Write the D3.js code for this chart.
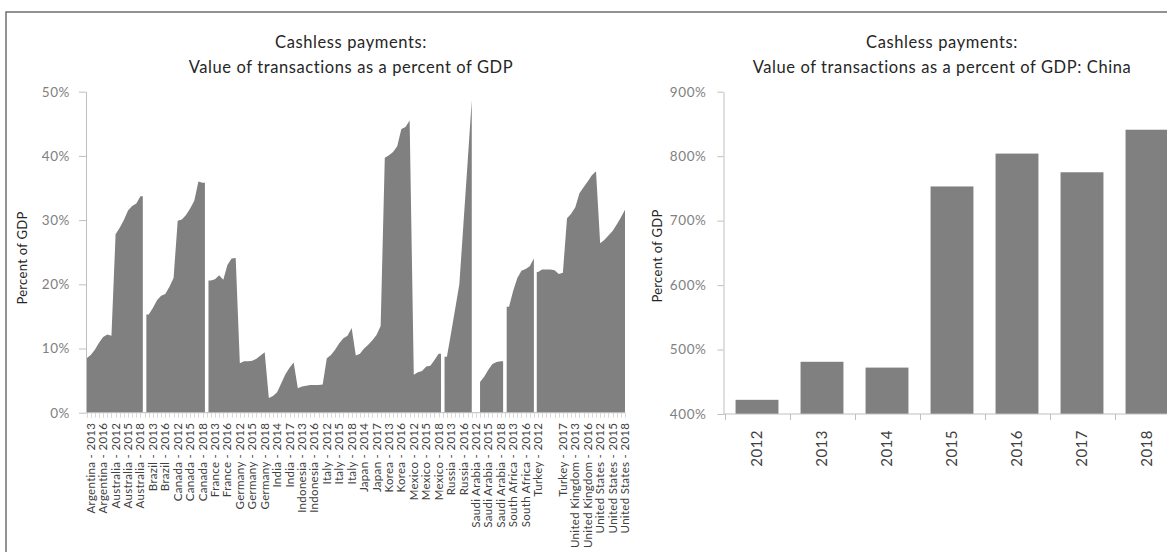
<!DOCTYPE html>
<html><head><meta charset="utf-8">
<script src="https://cdn.jsdelivr.net/npm/d3@7"></script>
<style>
body{margin:0;background:#fff;}
svg{display:block;font-family:Lato,"Open Sans",sans-serif;}
</style></head><body>
<svg id="chart" width="1167" height="552"></svg>
<script>
// ---------- data ----------
const categories = [
"Argentina - 2012","Argentina - 2013","Argentina - 2014","Argentina - 2015","Argentina - 2016","Argentina - 2017","Argentina - 2018",
"Australia - 2012","Australia - 2013","Australia - 2014","Australia - 2015","Australia - 2016","Australia - 2017","Australia - 2018",
"",
"Brazil - 2012","Brazil - 2013","Brazil - 2014","Brazil - 2015","Brazil - 2016","Brazil - 2017","Brazil - 2018",
"Canada - 2012","Canada - 2013","Canada - 2014","Canada - 2015","Canada - 2016","Canada - 2017","Canada - 2018",
"",
"France - 2012","France - 2013","France - 2014","France - 2015","France - 2016","France - 2017","France - 2018",
"Germany - 2012","Germany - 2013","Germany - 2014","Germany - 2015","Germany - 2016","Germany - 2017","Germany - 2018",
"India - 2012","India - 2013","India - 2014","India - 2015","India - 2016","India - 2017","India - 2018",
"Indonesia - 2012","Indonesia - 2013","Indonesia - 2014","Indonesia - 2015","Indonesia - 2016","Indonesia - 2017","Indonesia - 2018",
"Italy - 2012","Italy - 2013","Italy - 2014","Italy - 2015","Italy - 2016","Italy - 2017","Italy - 2018",
"Japan - 2012","Japan - 2013","Japan - 2014","Japan - 2015","Japan - 2016","Japan - 2017","Japan - 2018",
"Korea - 2012","Korea - 2013","Korea - 2014","Korea - 2015","Korea - 2016","Korea - 2017","Korea - 2018",
"Mexico - 2012","Mexico - 2013","Mexico - 2014","Mexico - 2015","Mexico - 2016","Mexico - 2017","Mexico - 2018",
"",
"Russia - 2012","Russia - 2013","Russia - 2014","Russia - 2015","Russia - 2016","Russia - 2017","Russia - 2018",
"Saudi Arabia - 2012","Saudi Arabia - 2013","Saudi Arabia - 2014","Saudi Arabia - 2015","Saudi Arabia - 2016","Saudi Arabia - 2017","Saudi Arabia - 2018",
"",
"South Africa - 2012","South Africa - 2013","South Africa - 2014","South Africa - 2015","South Africa - 2016","South Africa - 2017","South Africa - 2018",
"Turkey - 2012","Turkey - 2013","Turkey - 2014","","Turkey - 2015","Turkey - 2016","Turkey - 2017","Turkey - 2018",
"United Kingdom - 2012","United Kingdom - 2013","United Kingdom - 2014","United Kingdom - 2015","United Kingdom - 2016","United Kingdom - 2017","United Kingdom - 2018",
"United States - 2012","United States - 2013","United States - 2014","United States - 2015","United States - 2016","United States - 2017","United States - 2018"
];
// percent of GDP (null = empty cell)
const values = [
8.5, 9.0, 9.8, 10.9, 11.8, 12.2, 12.0,
27.8, 28.8, 30.0, 31.5, 32.2, 32.6, 33.7,
null,
15.3, 16.3, 17.5, 18.2, 18.5, 19.6, 21.0,
29.9, 30.1, 30.8, 31.8, 33.0, 36.0, 35.8,
null,
20.6, 20.8, 21.4, 20.7, 23.0, 24.0, 24.1,
7.7, 8.0, 8.0, 8.1, 8.4, 8.9, 9.4,
2.3, 2.6, 3.2, 4.6, 6.0, 7.0, 7.8,
3.8, 4.1, 4.2, 4.3, 4.3, 4.3, 4.4,
8.5, 9.0, 9.8, 10.8, 11.6, 12.0, 13.2,
8.9, 9.2, 10.0, 10.6, 11.3, 12.1, 13.5,
39.7, 40.1, 40.6, 41.5, 44.2, 44.5, 45.5,
5.9, 6.3, 6.5, 7.2, 7.3, 8.2, 9.2,
null,
8.7, 12.4, 16.2, 20.0, 29.5, 39.0, 48.7,
null, 4.8, 5.6, 6.7, 7.6, 7.9, 8.0,
null,
16.5, 19.0, 21.0, 22.1, 22.4, 22.8, 24.0,
21.9, 22.3, 22.3, 22.3, 22.2, 21.6, 21.8, 30.3,
31.0, 32.0, 34.2, 35.1, 36.0, 37.0, 37.6,
26.4, 26.9, 27.6, 28.3, 29.3, 30.4, 31.6
];
// the area is also interrupted after this category (South Africa / Turkey)
const areaBreaksAfter = ["South Africa - 2018"];
const leftYTicks = [0, 10, 20, 30, 40, 50];
const leftTitle = ["Cashless payments:", "Value of transactions as a percent of GDP"];

const chinaYears = ["2012","2013","2014","2015","2016","2017","2018"];
const chinaValues = [422, 481, 472, 753, 804, 775, 841];
const rightYTicks = [400, 500, 600, 700, 800, 900];
const rightTitle = ["Cashless payments:", "Value of transactions as a percent of GDP: China"];
const yAxisTitle = "Percent of GDP";

// ---------- drawing ----------
const svg = d3.select("#chart");
const FILL = "#808080", AXIS = "#bfbfbf", TICKTXT = "#7f7f7f", TXT = "#262626";

svg.append("rect").attr("x",6).attr("y",12).attr("width",1300).attr("height",700)
  .attr("fill","none").attr("stroke","#595959").attr("stroke-width",1.3);

function styleAxis(g){
  g.select(".domain").attr("stroke",AXIS);
  g.selectAll(".tick line").attr("stroke",AXIS);
  g.selectAll(".tick text").attr("fill",TICKTXT).style("font-size","13.5px")
    .style("letter-spacing","0.6px").style("font-family","Lato,sans-serif");
}

// ----- left chart -----
const n = categories.length;
const xL = d3.scalePoint().domain(d3.range(n)).range([86.6, 625]);
const step = xL.step();
const yL = d3.scaleLinear().domain([0, 50]).range([412.7, 91.7]);

const area = d3.area().x(d => d.x).y0(yL(0)).y1(d => yL(d.v));
const runs = []; let cur = null;
values.forEach((v, i) => {
  if (v == null) { if (cur) { runs.push(cur); cur = null; } }
  else {
    if (!cur) cur = [];
    cur.push(i);
    if (areaBreaksAfter.includes(categories[i])) { runs.push(cur); cur = null; }
  }
});
if (cur) runs.push(cur);
const gA = svg.append("g");
runs.forEach(run => {
  const pts = run.map(i => ({x: xL(i), v: values[i]}));
  const first = run[0], last = run[run.length - 1];
  if (first > 0 && categories[first - 1] === "") pts.unshift({x: xL(first) - step * 0.57, v: values[first]});
  else if (first > 0 && areaBreaksAfter.includes(categories[first - 1])) pts.unshift({x: xL(first) - step * 0.3, v: values[first]});
  if (last < n - 1 && categories[last + 1] === "") pts.push({x: xL(last) + step * 0.57, v: values[last]});
  gA.append("path").attr("d", area(pts)).attr("fill", FILL);
});

const gyL = svg.append("g").attr("transform", `translate(${xL(0) - 0.6},0)`)
  .call(d3.axisLeft(yL).tickValues(leftYTicks).tickFormat(d => d + "%").tickSize(7).tickPadding(9).tickSizeOuter(0));
styleAxis(gyL);

const gxL = svg.append("g").attr("transform", `translate(0,${yL(0)})`);
gxL.append("line").attr("x1", xL(0) - 0.6).attr("x2", xL(n - 1)).attr("y1", 0).attr("y2", 0).attr("stroke", AXIS);
gxL.selectAll("line.tk").data(d3.range(n)).join("line").attr("class","tk")
  .attr("x1", i => Math.round(xL(i)) + 0.5).attr("x2", i => Math.round(xL(i)) + 0.5)
  .attr("y1", 0).attr("y2", 5).attr("stroke", AXIS).attr("stroke-opacity", 0.6);
gxL.selectAll("text").data(d3.range(n).filter(i => i % 3 === 1)).join("text")
  .attr("transform", i => `translate(${xL(i)},10) rotate(-90)`)
  .attr("text-anchor","end").attr("dy","0.35em")
  .style("font-size","11.5px").style("letter-spacing","0.3px").attr("fill","#404040")
  .text(i => categories[i]);

svg.append("g").selectAll("text").data(leftTitle).join("text")
  .attr("x", 351).attr("y", (d, i) => 48 + i * 25).attr("text-anchor","middle")
  .style("font-size","16.5px").style("letter-spacing","0.6px").attr("fill", TXT).text(d => d);

svg.append("text").attr("transform","translate(26.5,258) rotate(-90)").attr("text-anchor","middle")
  .style("font-size","13px").style("letter-spacing","0.3px").attr("fill", TXT).text(yAxisTitle);

// ----- right chart -----
const xR = d3.scaleBand().domain(chinaYears).range([724.5, 1179.5]).paddingInner(0.34).paddingOuter(0.17);
const yR = d3.scaleLinear().domain([400, 900]).range([414, 91.7]);

svg.append("g").selectAll("rect").data(chinaYears).join("rect")
  .attr("x", d => xR(d)).attr("width", xR.bandwidth())
  .attr("y", (d, i) => yR(chinaValues[i])).attr("height", (d, i) => yR(400) - yR(chinaValues[i]))
  .attr("fill", FILL);

const gyR = svg.append("g").attr("transform","translate(723.5,0)")
  .call(d3.axisLeft(yR).tickValues(rightYTicks).tickFormat(d => d + "%").tickSize(6).tickPadding(11).tickSizeOuter(0));
styleAxis(gyR);

const gxR = svg.append("g").attr("transform", `translate(0,${yR(400)})`);
gxR.append("line").attr("x1", 723.5).attr("x2", 1180).attr("stroke", AXIS);
const stepR = xR.step();
gxR.selectAll("line.tk").data(chinaYears).join("line").attr("class","tk")
  .attr("x1", d => Math.round(xR(d) - stepR * 0.17) + 0.5).attr("x2", d => Math.round(xR(d) - stepR * 0.17) + 0.5)
  .attr("y1", 0).attr("y2", 6).attr("stroke", AXIS);
gxR.selectAll("text").data(chinaYears).join("text")
  .attr("transform", d => `translate(${xR(d) + xR.bandwidth() / 2},16) rotate(-90)`)
  .attr("text-anchor","end").attr("dy","0.35em")
  .style("font-size","15px").style("letter-spacing","0.5px").attr("fill","#404040").text(d => d);

svg.append("g").selectAll("text").data(rightTitle).join("text")
  .attr("x", 942).attr("y", (d, i) => 48 + i * 25).attr("text-anchor","middle")
  .style("font-size","16.5px").style("letter-spacing","0.6px").attr("fill", TXT).text(d => d);

svg.append("text").attr("transform","translate(662,256) rotate(-90)").attr("text-anchor","middle")
  .style("font-size","13px").style("letter-spacing","0.3px").attr("fill", TXT).text(yAxisTitle);
</script>
</body></html>
